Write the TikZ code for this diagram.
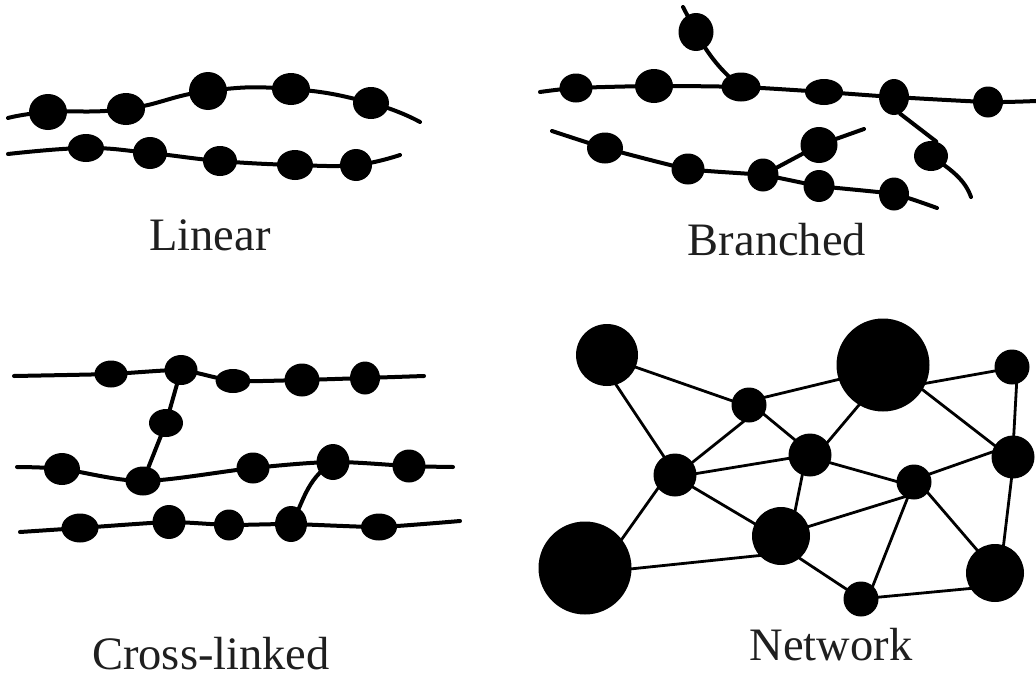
\documentclass[tikz,border=0pt]{standalone}
\usepackage{fontspec}
\setmainfont{Liberation Serif}
\usetikzlibrary{shapes.geometric}
\tikzset{
  bead/.style={ellipse,fill=black,draw=none,inner sep=0pt},
  ball/.style={circle,fill=black,draw=none,inner sep=0pt,minimum size=#1},
  chain/.style={line width=4pt,line cap=round,line join=round,black},
  bond/.style={line width=2.8pt,black,shorten <=-1.5pt,shorten >=-1.5pt},
  caption/.style={anchor=base,text=black!88,font=\fontsize{46.5}{50}\selectfont,inner sep=0pt}
}
\newcommand{\bd}[5]{\node[bead,minimum width=#4pt,minimum height=#5pt] (#1) at (#2,#3) {};}
\begin{document}
\begin{tikzpicture}[x=1pt,y=-1pt]
\useasboundingbox (0,0) rectangle (1036,680);
\fill[white] (0,0) rectangle (1036,680);

% Linear
\coordinate (ls1) at (8,118); \coordinate (le1) at (420,122);
\bd{la}{48}{112}{38}{36}\bd{lb}{126}{109}{38}{32}\bd{lc}{208}{91}{38}{38}\bd{ld}{291}{89}{38}{32}\bd{lf}{371}{103}{36}{32}
\draw[chain] plot[smooth,tension=.8] coordinates {(ls1) (la.center) (lb.center) (lc.center) (ld.center) (lf.center) (le1)};
\coordinate (ls2) at (8,154); \coordinate (le2) at (400,155);
\bd{lg}{86}{148}{36}{28}\bd{lh}{150}{153}{34}{32}\bd{li}{220}{161}{34}{30}\bd{lj}{295}{165}{36}{30}\bd{lk}{356}{165}{32}{32}
\draw[chain] plot[smooth,tension=.7] coordinates {(ls2) (lg.center) (lh.center) (li.center) (lj.center) (lk.center) (le2)};
\node[caption] (linear) at (210,250) {Linear};

% Branched
\coordinate (bs1) at (540,92); \coordinate (be1) at (1036,101);
\bd{ba}{576}{88}{33}{29}\bd{bb}{654}{86}{38}{34}\bd{bc}{741}{87}{39}{29}\bd{bd}{824}{92}{38}{26}\bd{bf}{894}{97}{30}{36}\bd{bg}{988}{102}{30}{31}
\draw[chain] plot[smooth,tension=.4] coordinates {(bs1) (ba.center) (bb.center) (bc.center) (bd.center) (bf.center) (bg.center) (be1)};
\coordinate (bu) at (683,7);
\bd{bh}{696}{32}{35}{38}
\draw[chain] (bu) -- (bh.center) .. controls (708,55) and (722,72) .. (bc.center);
\coordinate (br) at (971,197);
\bd{bi}{931}{156}{34}{30}
\draw[chain] (bf.-70) -- (bi.70);
\draw[chain] (bi.center) .. controls (952,170) and (965,180) .. (br);
\coordinate (bs2) at (552,131); \coordinate (be2) at (937,208);
\bd{bj}{605}{148}{36}{31}\bd{bk}{688}{169}{33}{31}\bd{bl}{763}{175}{31}{33}\bd{bm}{819}{186}{31}{32}\bd{bn}{894}{194}{30}{33}
\draw[chain] plot[smooth,tension=.3] coordinates {(bs2) (bj.center) (bk.center) (bl.center) (bm.center) (bn.center) (be2)};
\coordinate (bq) at (864,129);
\bd{bp}{819}{145}{37}{36}
\draw[chain] (bl.center) -- (bp.center) -- (bq);
\node[caption] (branched) at (777,255) {Branched};

% Cross-linked
\coordinate (cs1) at (14,376); \coordinate (ce1) at (424,376);
\bd{ca}{111}{374}{33}{27}\bd{cb}{181}{370}{33}{30}\bd{cc}{233}{381}{35}{24}\bd{cd}{302}{380}{35}{33}\bd{cf}{365}{378}{30}{33}
\draw[chain] plot[smooth,tension=.3] coordinates {(cs1) (ca.center) (cb.center) (cc.center) (cd.center) (cf.center) (ce1)};
\coordinate (cs2) at (17,467); \coordinate (ce2) at (453,467);
\bd{cg}{62}{469}{36}{32}\bd{ch}{143}{481}{35}{29}\bd{ci}{253}{468}{33}{31}\bd{cj}{333}{462}{33}{36}\bd{ck}{409}{466}{33}{33}
\draw[chain] plot[smooth,tension=.5] coordinates {(cs2) (cg.center) (ch.center) (ci.center) (cj.center) (ck.center) (ce2)};
\bd{cm}{166}{423}{34}{28}
\draw[chain] (cb.center) -- (cm.center) -- (ch.center);
\coordinate (cs3) at (20,532); \coordinate (ce3) at (460,521);
\bd{cn}{80}{528}{37}{29}\bd{cp}{169}{522}{33}{34}\bd{cq}{229}{525}{30}{31}\bd{cr}{291}{524}{32}{36}\bd{ct}{379}{527}{36}{27}
\draw[chain] plot[smooth,tension=.3] coordinates {(cs3) (cn.center) (cp.center) (cq.center) (cr.center) (ct.center) (ce3)};
\draw[chain] (cr.center) .. controls (303,505) and (305,480) .. (cj.center);
\node[caption] (crosslinked) at (211,669) {Cross-linked};

% Network
\node[ball=62pt] (A) at (607,355) {};
\node[ball=93pt] (B) at (883,365) {};
\node[ball=35pt] (C) at (1012,367) {};
\node[ball=35pt] (D) at (749,405) {};
\node[ball=43pt] (E) at (810,455) {};
\node[ball=43pt] (F) at (675,475) {};
\node[ball=35pt] (G) at (914,482) {};
\node[ball=43pt] (H) at (1013,457) {};
\node[ball=58pt] (I) at (781,536) {};
\node[ball=93pt] (J) at (585,568) {};
\node[ball=35pt] (K) at (861,599) {};
\node[ball=58pt] (L) at (995,573) {};
\foreach \p/\pa/\q/\qa in {
  A/-23/D/166, A/-73/F/121, D/26/B/198, D/-32/E/135, D/-109/F/36,
  B/-121/E/36, B/-23/C/193, B/-32/H/148, C/-75/H/88, E/189/F/4,
  E/-21/G/178, E/-111/I/61, F/-34/I/155, F/-142/J/38, G/27/H/167,
  G/-123/I/19, G/-112/K/48, G/-38/L/128, H/-94/L/73, I/-138/J/-1,
  I/-50/K/146, K/6/L/212}
  \draw[bond] (\p.\pa) -- (\q.\qa);
\node[caption] (network) at (831,660) {Network};
\end{tikzpicture}
\end{document}
